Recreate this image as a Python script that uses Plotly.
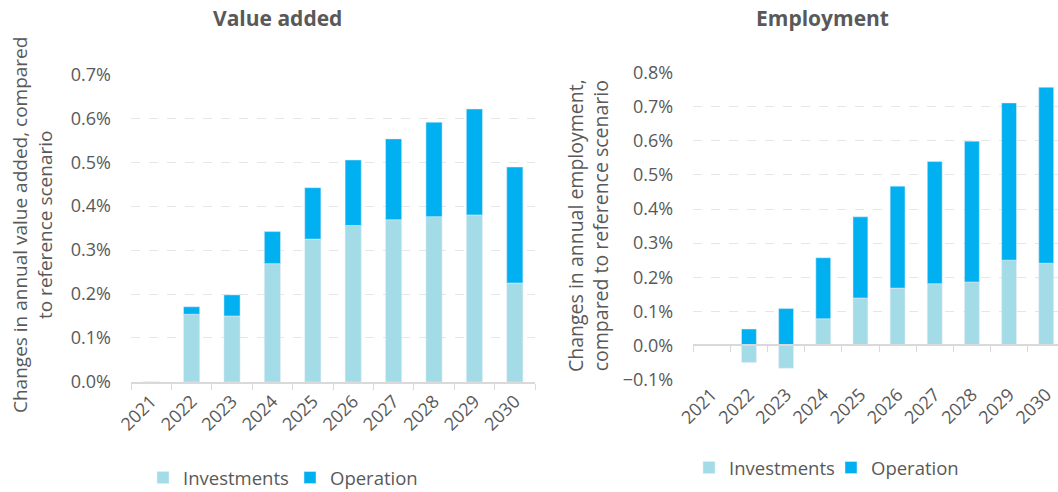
import plotly.graph_objects as go

# years shown on both panels
years = ["2021", "2022", "2023", "2024", "2025", "2026", "2027", "2028", "2029", "2030"]

# value added, % change vs reference scenario
va_investments = [0.0, 0.154, 0.150, 0.269, 0.325, 0.356, 0.369, 0.376, 0.380, 0.225]
va_operation = [0.0, 0.017, 0.048, 0.073, 0.117, 0.149, 0.184, 0.215, 0.241, 0.264]

# employment, % change vs reference scenario
emp_investments = [0.0, -0.050, -0.067, 0.078, 0.139, 0.168, 0.181, 0.186, 0.250, 0.241]
emp_operation = [0.0, 0.048, 0.108, 0.179, 0.238, 0.299, 0.358, 0.413, 0.461, 0.516]

W, H = 1058, 492
FONT = "Open Sans"
GREY = "#595959"
AXIS = "#D9D9D9"
GRID = "#E6E6E6"
C_INV = "#A3DCE7"
C_OP = "#00B0F0"

def px_x(p):
    return p / W

def px_y(p):
    return (H - p) / H

fig = go.Figure()

# left panel
fig.add_trace(go.Bar(x=years, y=va_investments, name="Investments", marker_color=C_INV,
                     xaxis="x", yaxis="y", legend="legend"))
fig.add_trace(go.Bar(x=years, y=va_operation, name="Operation", marker_color=C_OP,
                     xaxis="x", yaxis="y", legend="legend"))
# right panel
fig.add_trace(go.Bar(x=years, y=emp_investments, name="Investments", marker_color=C_INV,
                     xaxis="x2", yaxis="y2", legend="legend2"))
fig.add_trace(go.Bar(x=years, y=emp_operation, name="Operation", marker_color=C_OP,
                     xaxis="x2", yaxis="y2", legend="legend2"))
# empty trace so the zero-line tick axis is drawn
fig.add_trace(go.Scatter(x=[], y=[], xaxis="x3", yaxis="y2", showlegend=False))

y2_dom = [px_y(379.5), px_y(72.6)]
y2_range = [-0.1, 0.8]
zero_pos = y2_dom[0] + (0 - y2_range[0]) / (y2_range[1] - y2_range[0]) * (y2_dom[1] - y2_dom[0])
x2_range = [-0.5, (1058 - 693.2) / 37.16 - 0.5]

tickfont = dict(family=FONT, size=18, color=GREY)
legfont = dict(family=FONT, size=18.5, color=GREY)

fig.update_layout(
    width=W, height=H,
    margin=dict(l=0, r=0, t=0, b=0, autoexpand=False),
    paper_bgcolor="white", plot_bgcolor="white",
    barmode="relative", bargap=0.6,
    font=dict(family=FONT, color=GREY),
    xaxis=dict(domain=[px_x(131), px_x(535)], anchor="y", type="category",
               showline=True, linecolor=AXIS, linewidth=1.5,
               ticks="outside", tickson="boundaries", ticklen=6, tickcolor=AXIS,
               tickangle=-45, tickfont=tickfont, showgrid=False),
    yaxis=dict(domain=[px_y(381.9), px_y(74.3)], anchor="x", range=[0, 0.7],
               dtick=0.1, tickformat=".1f", ticksuffix="%", tickfont=tickfont,
               showgrid=True, gridcolor=GRID, griddash="dash", gridwidth=1,
               zeroline=False, ticklabelstandoff=19),
    xaxis2=dict(domain=[px_x(693.2), 1.0], anchor="y2", type="category", range=x2_range,
                showline=False, ticks="", tickangle=-45, tickfont=tickfont, showgrid=False),
    yaxis2=dict(domain=y2_dom, anchor="x2", range=y2_range,
                dtick=0.1, tickformat=".1f", ticksuffix="%", tickfont=tickfont,
                showgrid=True, gridcolor=GRID, griddash="dash", gridwidth=1,
                zeroline=False, ticklabelstandoff=19),
    xaxis3=dict(overlaying="x2", anchor="free", position=zero_pos, range=x2_range,
                tickmode="array", tickvals=[i - 0.5 for i in range(len(years))],
                ticks="outside", ticklen=6, tickcolor=AXIS, showticklabels=False,
                showline=True, linecolor=AXIS, linewidth=1.5, showgrid=False, zeroline=False),
    legend=dict(orientation="h", x=px_x(143), y=px_y(478), xanchor="left", yanchor="middle",
                font=legfont, traceorder="normal", entrywidth=102, entrywidthmode="pixels"),
    legend2=dict(orientation="h", x=px_x(689), y=px_y(468), xanchor="left", yanchor="middle",
                 font=legfont, traceorder="normal", entrywidth=97, entrywidthmode="pixels"),
    annotations=[
        dict(text="<b>Value added</b>", x=px_x(277), y=px_y(18), xref="paper", yref="paper",
             xanchor="center", yanchor="middle",
             showarrow=False, font=dict(family=FONT, size=21, color=GREY)),
        dict(text="<b>Employment</b>", x=px_x(822), y=px_y(18), xref="paper", yref="paper",
             xanchor="center", yanchor="middle",
             showarrow=False, font=dict(family=FONT, size=21, color=GREY)),
        dict(text="Changes in annual value added, compared<br>to reference scenario",
             x=px_x(33), y=px_y(225), xref="paper", yref="paper", textangle=-90,
             xanchor="center", yanchor="middle",
             showarrow=False, font=dict(family=FONT, size=19, color=GREY)),
        dict(text="Changes in annual employment,<br>compared to reference scenario",
             x=px_x(588), y=px_y(226), xref="paper", yref="paper", textangle=-90,
             xanchor="center", yanchor="middle",
             showarrow=False, font=dict(family=FONT, size=19.5, color=GREY)),
    ],
)

# drop the default page margin so the figure sits at the window's top-left corner
fig.write_html("out.html", config={"displayModeBar": False},
               post_script="document.body.style.margin='0';")
